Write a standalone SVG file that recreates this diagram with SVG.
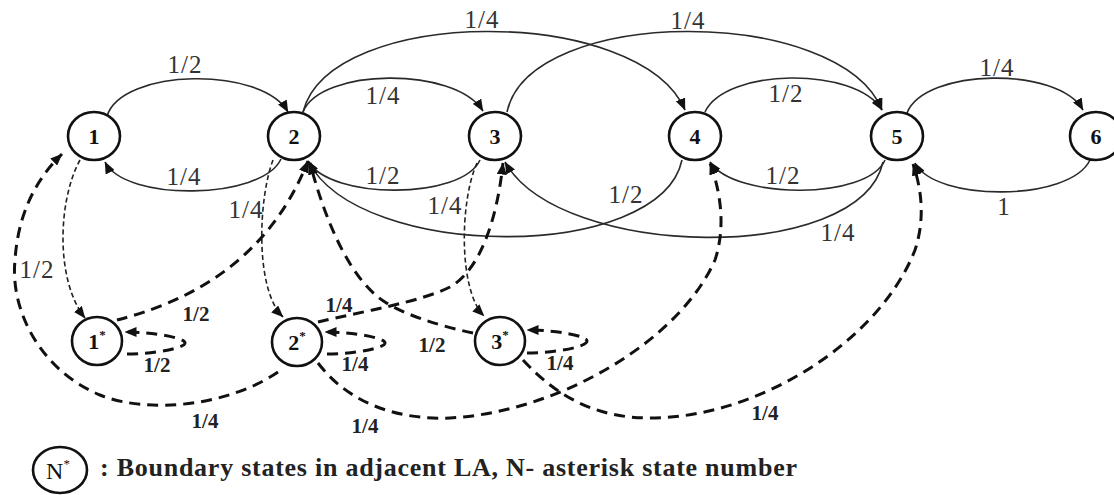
<svg xmlns="http://www.w3.org/2000/svg" width="1114" height="495" viewBox="0 0 1114 495">
<style>
.node{fill:#fff;stroke:#111;stroke-width:2.6}
.nl{font-family:"Liberation Serif",serif;font-weight:bold;font-size:22px;fill:#111;text-anchor:middle}
.sup{font-size:13px}
.solid{fill:none;stroke:#2a2a2a;stroke-width:1.6}
.fine{fill:none;stroke:#222;stroke-width:1.6;stroke-dasharray:5 3}
.thick{fill:none;stroke:#111;stroke-width:3;stroke-dasharray:11 7}
.lab{font-family:"Liberation Serif",serif;font-size:25px;fill:#333;text-anchor:middle;letter-spacing:1px}
.blab{font-family:"Liberation Serif",serif;font-weight:bold;font-size:21px;fill:#222;text-anchor:middle}
.legend{font-family:"Liberation Serif",serif;font-weight:bold;font-size:26px;fill:#222}
</style>
<defs>
<marker id="ah" viewBox="0 0 12 10" refX="11.5" refY="5" markerWidth="12" markerHeight="10" markerUnits="userSpaceOnUse" orient="auto">
<path d="M0,0 L12,5 L0,10 z" fill="#111"/>
</marker>
</defs>

<g id="connectors">
<!-- solid -->
<path class="solid" d="M107,116 C122,68 262,66 288,112" marker-end="url(#ah)"/>
<path class="solid" d="M281,159 C262,200 125,202 105,162" marker-end="url(#ah)"/>
<path class="solid" d="M303,112 C320,68 455,66 483,111" marker-end="url(#ah)"/>
<path class="solid" d="M303,112 C330,5 640,5 685,110" marker-end="url(#ah)"/>
<path class="solid" d="M507,112 C530,5 840,5 882,110" marker-end="url(#ah)"/>
<path class="solid" d="M705,112 C725,68 855,66 882,110" marker-end="url(#ah)"/>
<path class="solid" d="M907,113 C925,68 1058,66 1083,110" marker-end="url(#ah)"/>
<path class="solid" d="M1090,160 C1070,202 935,202 915,163" marker-end="url(#ah)"/>
<path class="solid" d="M480,160 C462,200 330,200 308,161" marker-end="url(#ah)"/>
<path class="solid" d="M885,160 C868,200 735,200 710,162" marker-end="url(#ah)"/>
<path class="solid" d="M682,160 C660,262 360,262 308,161" marker-end="url(#ah)"/>
<path class="solid" d="M883,162 C860,265 560,260 505,162" marker-end="url(#ah)"/>
<!-- fine dashed -->
<path class="fine" d="M80,160 C58,200 55,280 85,318" marker-end="url(#ah)"/>
<path class="fine" d="M273,160 C258,200 255,290 283,317" marker-end="url(#ah)"/>
<path class="fine" d="M477,163 C460,200 458,290 484,316" marker-end="url(#ah)"/>
<!-- thick dashed -->
<path class="thick" d="M278,372 C230,405 150,415 100,395 C40,370 10,310 15,260 C18,215 35,180 62,154" marker-end="url(#ah)"/>
<path class="thick" d="M117,320 C175,305 265,270 308,161" marker-end="url(#ah)"/>
<path class="thick" d="M318,322 C360,312 420,302 450,287 C480,270 497,220 503,163" marker-end="url(#ah)"/>
<path class="thick" d="M473,333 C440,326 405,315 385,302 C350,280 325,220 310,163" marker-end="url(#ah)"/>
<path class="thick" d="M318,363 C350,405 400,420 450,418 C560,412 680,340 715,260 C725,230 722,195 710,163" marker-end="url(#ah)"/>
<path class="thick" d="M523,360 C560,400 600,418 650,418 C760,418 880,340 915,250 C925,220 922,190 913,164" marker-end="url(#ah)"/>
<path class="thick" d="M127,354 C155,354 185,348 185,343 C185,338 155,332 125,332" marker-end="url(#ah)"/>
<path class="thick" d="M327,354 C355,354 385,348 385,343 C385,338 355,332 325,332" marker-end="url(#ah)"/>
<path class="thick" d="M527,353 C555,353 587,347 587,341 C587,336 557,330 527,330" marker-end="url(#ah)"/>
</g>

<g id="edge-labels">
<text class="lab" x="185" y="73">1/2</text>
<text class="lab" x="184" y="185">1/4</text>
<text class="lab" x="383" y="104">1/4</text>
<text class="lab" x="482" y="28">1/4</text>
<text class="lab" x="688" y="29">1/4</text>
<text class="lab" x="786" y="102">1/2</text>
<text class="lab" x="997" y="76">1/4</text>
<text class="lab" x="1004" y="215">1</text>
<text class="lab" x="383" y="184">1/2</text>
<text class="lab" x="783" y="184">1/2</text>
<text class="lab" x="626" y="203">1/2</text>
<text class="lab" x="838" y="241">1/4</text>
<text class="lab" x="37" y="278">1/2</text>
<text class="lab" x="246" y="218">1/4</text>
<text class="lab" x="445" y="214">1/4</text>
<text class="blab" x="205" y="428">1/4</text>
<text class="blab" x="196" y="321">1/2</text>
<text class="blab" x="339" y="312">1/4</text>
<text class="blab" x="432" y="352">1/2</text>
<text class="blab" x="365" y="433">1/4</text>
<text class="blab" x="765" y="420">1/4</text>
<text class="blab" x="157" y="372">1/2</text>
<text class="blab" x="355" y="371">1/4</text>
<text class="blab" x="560" y="370">1/4</text>
</g>

<g id="n1"><ellipse class="node" cx="94" cy="136" rx="26" ry="24"/><text class="nl" x="94" y="144">1</text></g>
<g id="n2"><ellipse class="node" cx="294" cy="136" rx="26" ry="24"/><text class="nl" x="294" y="144">2</text></g>
<g id="n3"><ellipse class="node" cx="495" cy="136" rx="26" ry="24"/><text class="nl" x="495" y="144">3</text></g>
<g id="n4"><ellipse class="node" cx="695" cy="136" rx="26" ry="24"/><text class="nl" x="695" y="144">4</text></g>
<g id="n5"><ellipse class="node" cx="897" cy="136" rx="26" ry="24"/><text class="nl" x="897" y="144">5</text></g>
<g id="n6"><ellipse class="node" cx="1096" cy="136" rx="26" ry="24"/><text class="nl" x="1096" y="144">6</text></g>
<g id="n1s"><ellipse class="node" cx="97" cy="341" rx="25" ry="24"/><text class="nl" x="97" y="349">1<tspan class="sup" dy="-10">*</tspan></text></g>
<g id="n2s"><ellipse class="node" cx="297" cy="342" rx="25" ry="24"/><text class="nl" x="297" y="350">2<tspan class="sup" dy="-10">*</tspan></text></g>
<g id="n3s"><ellipse class="node" cx="500" cy="341" rx="25" ry="24"/><text class="nl" x="500" y="349">3<tspan class="sup" dy="-10">*</tspan></text></g>

<g id="legend">
<ellipse class="node" cx="60" cy="470" rx="27" ry="23"/>
<text x="58" y="479" style="font-family:'Liberation Serif',serif;font-size:24px;fill:#111;text-anchor:middle">N<tspan font-size="13" dy="-11">*</tspan></text>
<text class="legend" x="100" y="476" textLength="697" lengthAdjust="spacing">: Boundary states in adjacent LA, N- asterisk state number</text>
</g>
</svg>
